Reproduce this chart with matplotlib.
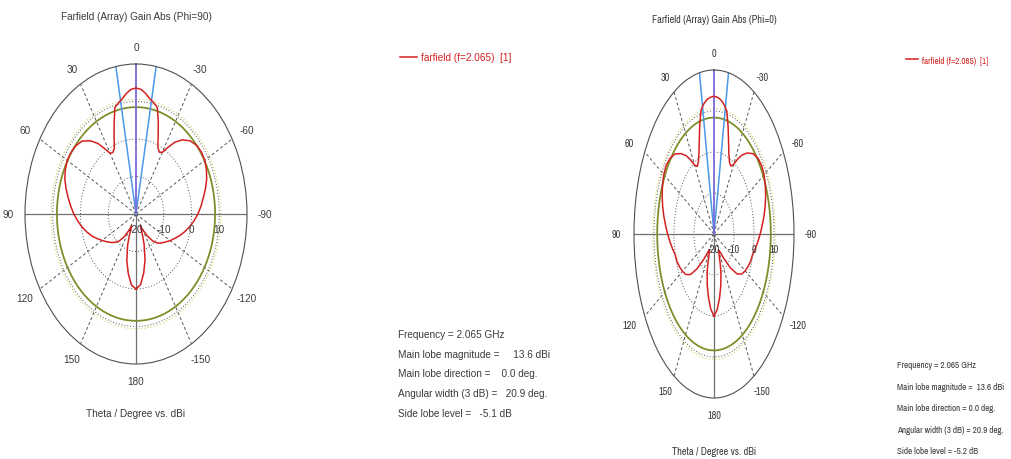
import numpy as np
import matplotlib
matplotlib.use('Agg')
import matplotlib.pyplot as plt
from matplotlib import font_manager

plt.rcParams['font.family'] = ['Liberation Sans', 'DejaVu Sans']

# narrower face for the Phi=0 panel, when one is installed
narrow = None
for f in font_manager.fontManager.ttflist:
    if ('Narrow' in f.name or 'Condensed' in f.name) and f.style == 'normal':
        narrow = dict(family=f.name)
        break
if narrow is None:
    for f in font_manager.fontManager.ttflist:
        if str(f.stretch) in ('condensed', 'semi-condensed', 'extra-condensed') and f.style == 'normal':
            narrow = dict(family=f.name, stretch=f.stretch)
            break
if narrow is None:
    narrow = dict(family='Liberation Sans')

# farfield cut, Phi=90
theta_phi90 = [-180, -175, -170, -165, -160, -157, -154, -150, -145, -140, -135, -130, -125, -120,
               -115, -110, -105, -100, -95, -90, -85, -80, -75, -70, -65, -60, -55, -50, -45, -40,
               -36, -33, -30, -27, -24, -21, -18, -15, -12, -9, -6, -3, 0,
               3, 6, 9, 12, 15, 18, 21, 24, 27, 30, 33, 36, 40, 45, 50, 55, 60, 65, 70, 75, 80,
               85, 90, 95, 100, 105, 110, 115, 120, 125, 130, 135, 140, 145, 150, 154, 157, 160,
               165, 170, 175, 180]
gain_phi90 = [0.0, -1.1, -4.0, -7.4, -11.5, -14.2, -16.4, -15.2, -12.8, -10.6, -9.0, -8.0, -7.0, -5.8,
              -4.6, -3.2, -1.8, -0.4, 1.0, 2.3, 3.5, 4.6, 5.9, 7.1, 8.0, 8.6, 8.8, 8.5, 7.6, 5.8,
              3.6, 1.2, -1.0, -1.5, -0.6, 2.3, 6.0, 9.5, 10.4, 11.2, 12.4, 13.3, 13.6,
              13.3, 12.4, 11.2, 10.3, 9.4, 5.5, 2.0, -0.8, -1.6, -1.3, 0.8, 3.2, 5.5, 7.5, 8.3,
              8.6, 8.6, 8.1, 7.3, 6.1, 4.8, 3.6, 2.4, 1.1, -0.2, -1.6, -3.0, -4.5, -5.9, -7.1,
              -8.2, -9.3, -10.6, -12.6, -15.0, -16.5, -14.0, -11.2, -7.2, -3.9, -1.0, 0.0]

# farfield cut, Phi=0
theta_phi0 = theta_phi90
gain_phi0 = [0.0, -1.5, -4.1, -6.9, -9.8, -12.0, -14.0, -15.5, -14.6, -12.0, -8.2, -4.8, -3.0, -2.0,
             -1.2, -0.5, -0.1, 0.9, 2.0, 3.1, 4.2, 5.4, 6.5, 7.5, 8.3, 8.9, 9.1, 8.7, 7.7, 5.8,
             3.8, 1.8, -0.4, -1.4, -0.9, 0.8, 3.6, 7.2, 10.7, 12.0, 12.9, 13.4, 13.6,
             13.4, 13.0, 12.2, 11.0, 7.6, 3.8, 1.0, -0.8, -1.5, -0.6, 1.6, 3.6, 5.6, 7.6, 8.7,
             9.2, 9.0, 8.4, 7.6, 6.6, 5.5, 4.3, 3.2, 2.1, 1.0, 0.0, -0.3, -1.0, -1.8, -2.8,
             -4.6, -8.0, -11.8, -14.5, -15.6, -14.2, -12.2, -10.0, -7.0, -4.2, -1.6, 0.0]

freq = 2.065
main_mag = [13.6, 13.6]
main_dir = [0.0, 0.0]
width_3db = [20.9, 20.9]
side_lobe = [-5.1, -5.2]

angle_ticks = [0, 30, 60, 90, 120, 150, 180, 210, 240, 270, 300, 330]
angle_labels = ['0', '30', '60', '90', '120', '150', '180', '-150', '-120', '-90', '-60', '-30']
ring_ticks = [-20, -10, 0, 10]

W, H = 1011, 460
fig = plt.figure(figsize=(W / 100, H / 100), dpi=100)
txt = '#3a3a3a'
red = '#d42020'
info_texts = []


def cut(cx, cy, rx, ry, theta, gain, k, titles, fs, font, info_x, info_y, info_dy, gaps,
        leg_x, leg_y, leg_fs, leg_len):
    ax = fig.add_axes([(cx - rx) / W, (H - cy - ry) / H, 2 * rx / W, 2 * ry / H],
                      projection='polar')
    ax.set_aspect('auto')
    ax.set_facecolor('none')
    ax.set_theta_zero_location('N')
    ax.set_theta_direction(1)
    ax.set_ylim(-20, 20)
    ax.set_thetagrids(angle_ticks, angle_labels, fontsize=fs, color=txt, **font)
    ax.set_rgrids(ring_ticks[1:], labels=['', '', ''])
    ax.xaxis.grid(False)
    ax.yaxis.grid(True, linestyle=(0, (1, 2)), color='#555555', linewidth=0.7)
    ax.tick_params(axis='x', pad=2)
    ax.spines['polar'].set_color('#505050')
    ax.spines['polar'].set_linewidth(0.8)

    # spokes
    for a in [30, 60, 120, 150, 210, 240, 300, 330]:
        ax.plot([np.radians(a)] * 2, [-20, 20], color='#555555', lw=0.7, ls=(0, (3, 2.5)))
    ax.plot([np.radians(90), np.radians(270)], [20, 20], color='#707070', lw=0.9)
    ax.plot([np.radians(180)] * 2, [-20, 20], color='#707070', lw=0.9)

    # 3 dB and side lobe level circles
    t = np.linspace(0, 2 * np.pi, 361)
    ax.plot(t, np.full_like(t, main_mag[k] - 3), color='#d8d060', lw=0.8, ls=(0, (1, 2)))
    ax.plot(t, np.full_like(t, main_mag[k] + side_lobe[k]), color='#7d8f2a', lw=1.3)

    # main lobe direction and 3 dB beamwidth
    d = np.radians(main_dir[k])
    hw = np.radians(width_3db[k] / 2)
    ax.plot([d - hw] * 2, [-20, 20], color='#4a98e8', lw=1.1)
    ax.plot([d + hw] * 2, [-20, 20], color='#4a98e8', lw=1.1)
    ax.plot([d] * 2, [-20, 20], color='#7a6ad8', lw=1.3)

    ax.plot(np.radians(theta), gain, color=red, lw=1.1, label=f'farfield (f={freq})  [1]')

    for r in ring_ticks:
        ax.annotate(f'{r}', xy=(np.radians(270), r), xytext=(0, -15),
                    textcoords='offset pixels', ha='center', va='center',
                    fontsize=fs, color=txt, **font)

    fig.text(cx / W, 1 - titles[1] / H, titles[0], ha='center', va='center',
             fontsize=fs, color=txt, **font)
    fig.text(cx / W, 1 - titles[3] / H, titles[2], ha='center', va='center',
             fontsize=fs, color=txt, **font)

    ax.legend(loc='center left', bbox_to_anchor=(leg_x / W, 1 - leg_y / H),
              bbox_transform=fig.transFigure, frameon=False,
              prop=dict(size=leg_fs, **font),
              handlelength=leg_len, handletextpad=0.4, labelcolor=red, borderaxespad=0)

    lines = [f'Frequency = {freq} GHz',
             f'Main lobe magnitude ={gaps[0]}{main_mag[k]:.1f} dBi',
             f'Main lobe direction ={gaps[1]}{main_dir[k]:.1f} deg.',
             f'Angular width (3 dB) ={gaps[2]}{width_3db[k]:.1f} deg.',
             f'Side lobe level ={gaps[2]}{side_lobe[k]:.1f} dB']
    for i, s in enumerate(lines):
        info_texts.append(fig.text(info_x / W, 1 - (info_y + i * info_dy) / H, s,
                                   ha='left', va='center', fontsize=fs, color=txt, **font))


cut(136, 215, 111, 150, theta_phi90, gain_phi90, 0,
    ('Farfield (Array) Gain Abs (Phi=90)', 17, 'Theta / Degree vs. dBi', 414),
    7.2, dict(family='Liberation Sans'), 398, 335, 19.7, ('     ', '    ', '   '),
    396, 58, 7.2, 1.7)
cut(714, 235, 80, 164, theta_phi0, gain_phi0, 1,
    ('Farfield (Array) Gain Abs (Phi=0)', 20, 'Theta / Degree vs. dBi', 452),
    7.4, narrow, 897, 366, 21.5, ('  ', ' ', ' '),
    902, 61, 6.4, 1.4)

# keep the right-hand block inside the canvas
renderer = fig.canvas.get_renderer()
for t in info_texts:
    while t.get_window_extent(renderer).x1 > W - 5:
        t.set_fontsize(t.get_fontsize() - 0.1)
right_fs = min(t.get_fontsize() for t in info_texts[5:])
for t in info_texts[5:]:
    t.set_fontsize(right_fs)

fig.savefig('out.png', dpi=100, facecolor='white')
